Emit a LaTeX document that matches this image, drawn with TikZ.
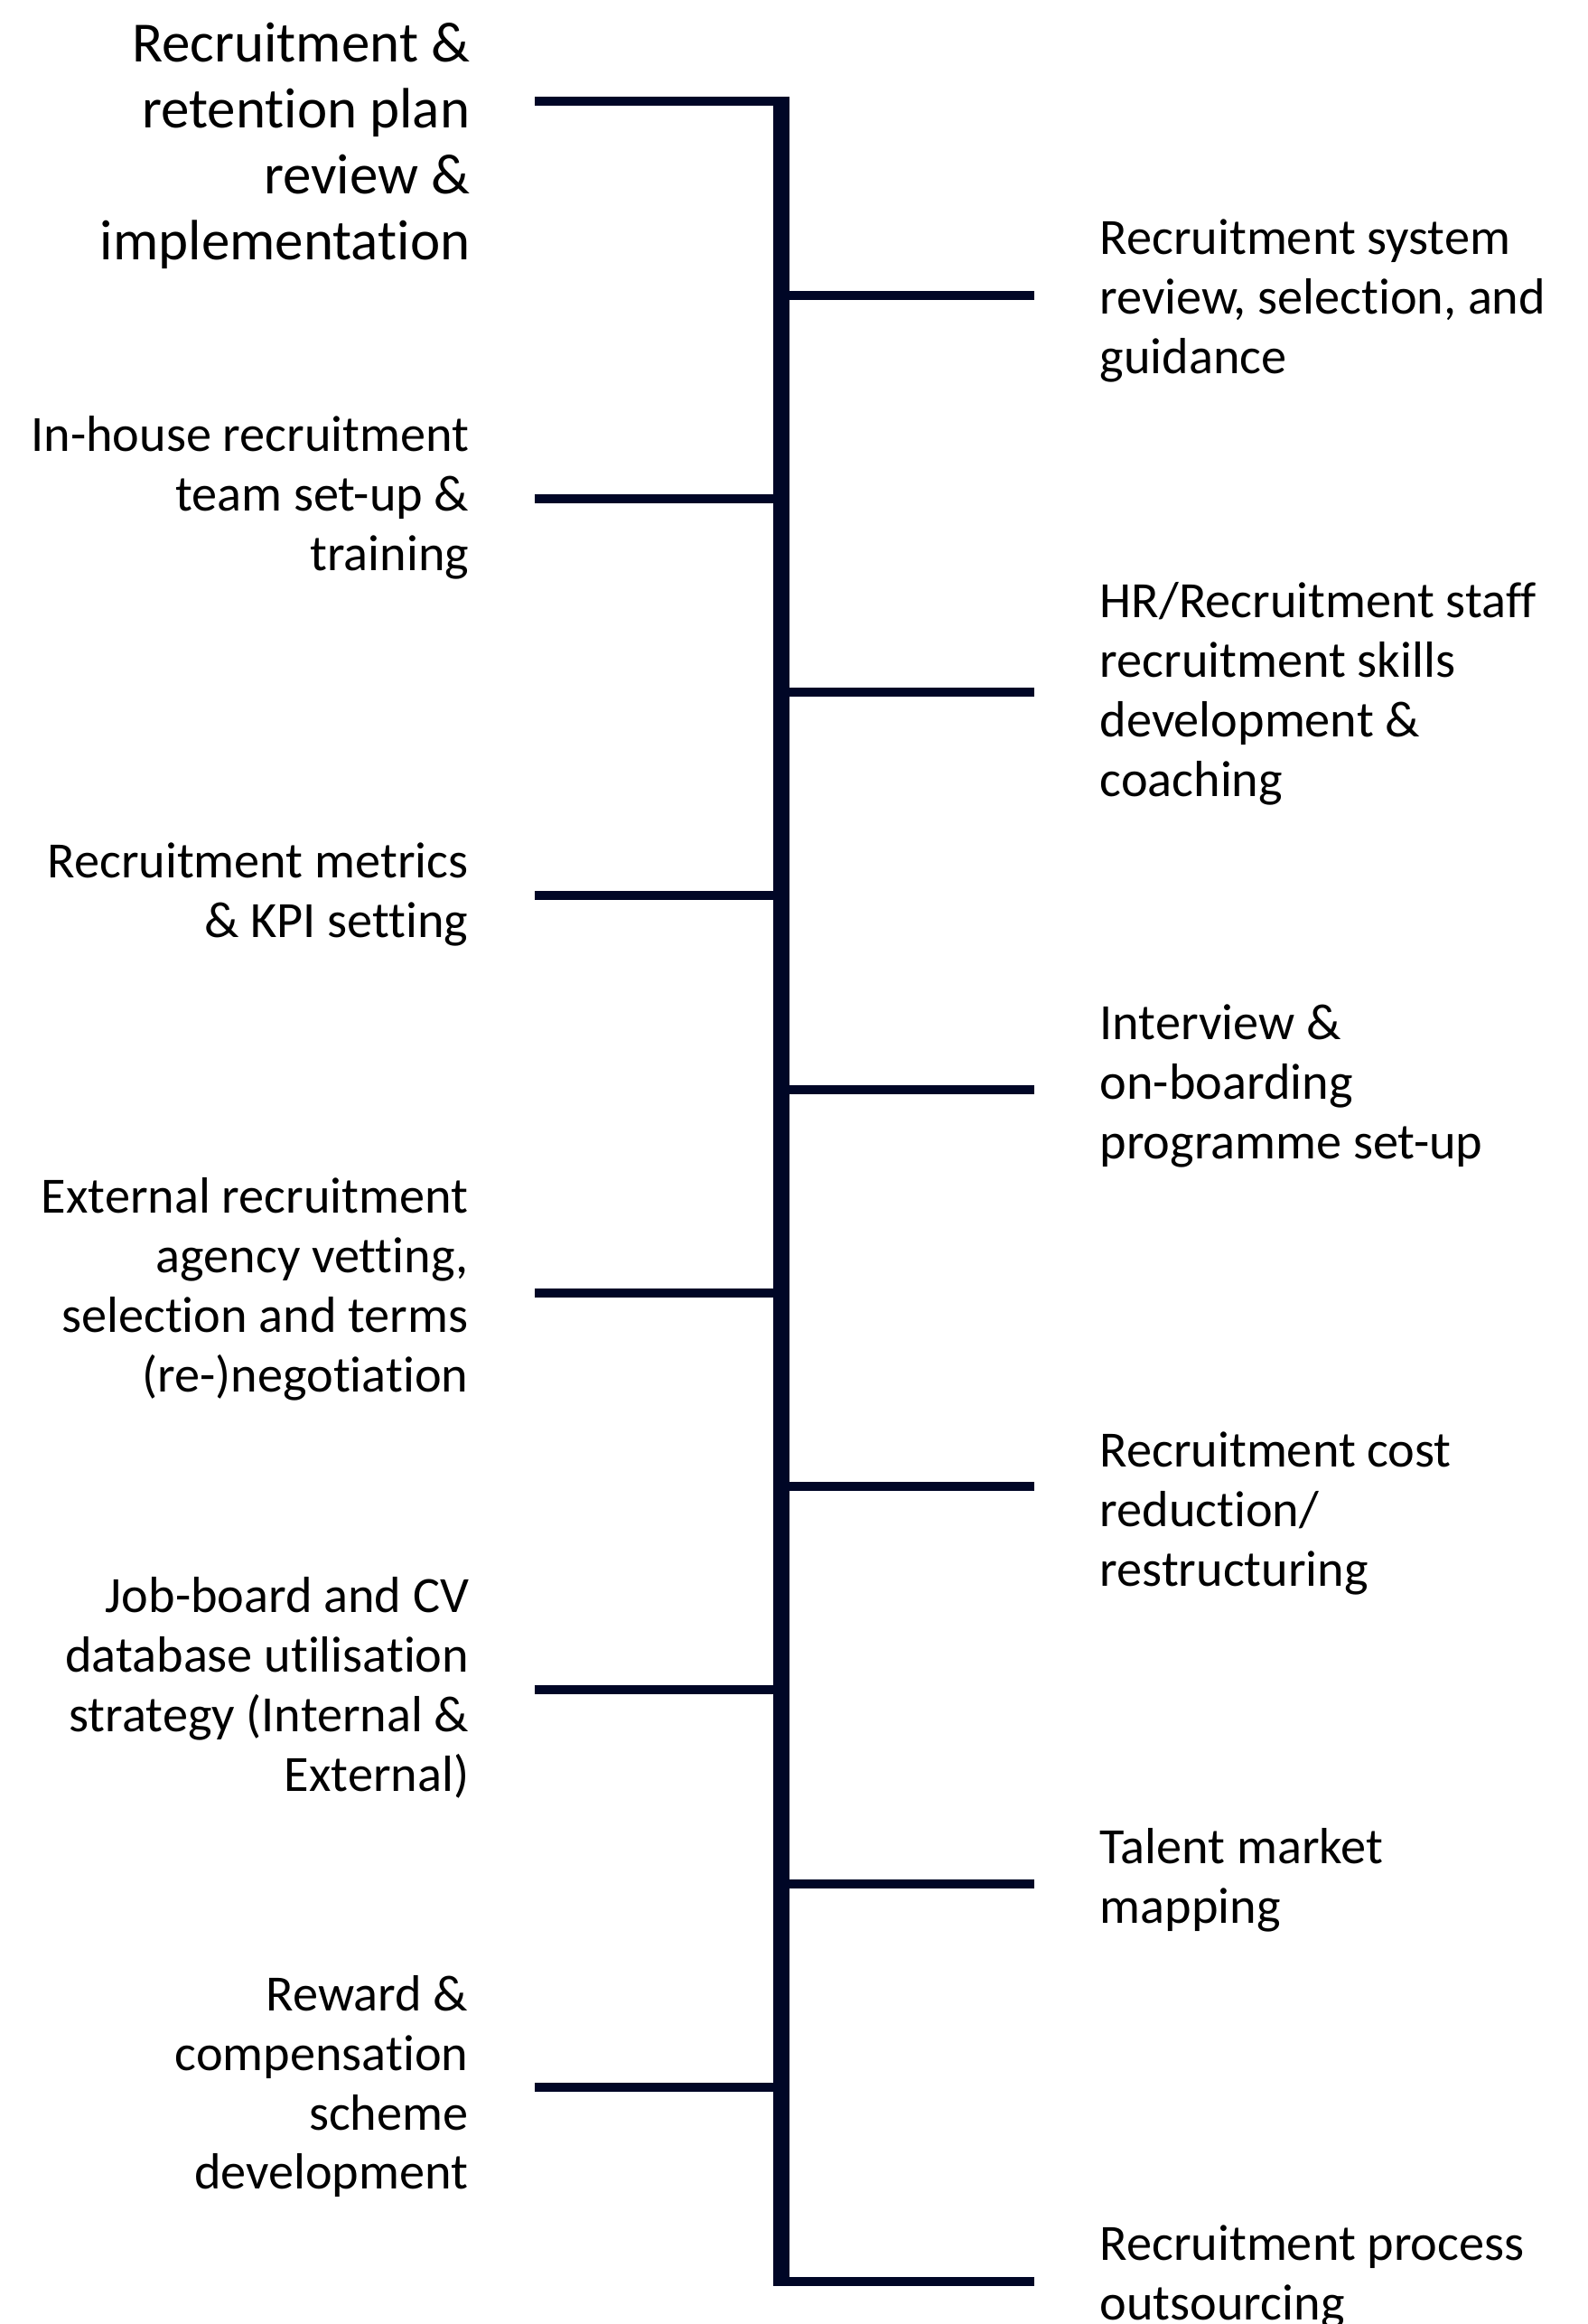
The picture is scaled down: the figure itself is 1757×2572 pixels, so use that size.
\documentclass[tikz,border=0pt]{standalone}
\usepackage{fontspec}
\setmainfont[Ligatures=NoCommon]{Carlito}
\definecolor{navy}{RGB}{0,6,38}
\tikzset{trunk/.style={navy, line width=0.18cm},
         branch/.style={navy, line width=0.1cm},
         every node/.style={inner sep=0pt, font=\fontsize{16pt}{18.76pt}\selectfont},
         lft/.style={anchor=east, align=right},
         rgt/.style={anchor=west, align=left}}

\begin{document}
\begin{tikzpicture}[x=0.01cm, y=-0.01cm]
   \useasboundingbox (0,0) rectangle (1757,2572);
   \begin{scope}
    \coordinate (top) at (865,107);
    \coordinate (bot) at (865,2530);
    \coordinate (a1) at (592, 112); \coordinate (b1) at (865, 112);
    \coordinate (a2) at (592, 552); \coordinate (b2) at (865, 552);
    \coordinate (a3) at (592, 991); \coordinate (b3) at (865, 991);
    \coordinate (a4) at (592,1431); \coordinate (b4) at (865,1431);
    \coordinate (a5) at (592,1870); \coordinate (b5) at (865,1870);
    \coordinate (a6) at (592,2310); \coordinate (b6) at (865,2310);
    \coordinate (c1) at (865, 327); \coordinate (d1) at (1145, 327);
    \coordinate (c2) at (865, 766); \coordinate (d2) at (1145, 766);
    \coordinate (c3) at (865,1206); \coordinate (d3) at (1145,1206);
    \coordinate (c4) at (865,1645); \coordinate (d4) at (1145,1645);
    \coordinate (c5) at (865,2085); \coordinate (d5) at (1145,2085);
    \coordinate (c6) at (865,2525); \coordinate (d6) at (1145,2525);
    \draw[trunk] (top) -- (bot);
    \draw[branch] (a1) -- (b1);
    \draw[branch] (a2) -- (b2);
    \draw[branch] (a3) -- (b3);
    \draw[branch] (a4) -- (b4);
    \draw[branch] (a5) -- (b5);
    \draw[branch] (a6) -- (b6);
    \draw[branch] (c1) -- (d1);
    \draw[branch] (c2) -- (d2);
    \draw[branch] (c3) -- (d3);
    \draw[branch] (c4) -- (d4);
    \draw[branch] (c5) -- (d5);
    \draw[branch] (c6) -- (d6);
   \end{scope}
   \node[lft, font=\fontsize{17.9pt}{20.75pt}\selectfont] (plan) at (521,161)
     {Recruitment \&\\retention plan\\review \&\\implementation};
   \node[lft] (inhouse) at (520,551) {In-house recruitment\\team set-up \&\\training};
   \node[lft] (metrics) at (519,990) {Recruitment metrics\\\& KPI setting};
   \node[lft] (agency) at (519,1427) {External recruitment\\agency vetting,\\selection and terms\\(re-)negotiation};
   \node[lft] (jobboard) at (520,1868) {Job-board and CV\\database utilisation\\strategy (Internal \&\\External)};
   \node[lft] (reward) at (519,2309) {Reward \&\\compensation\\scheme\\development};
   \node[rgt] (system) at (1217,333) {Recruitment system\\review, selection, and\\guidance};
   \node[rgt] (skills) at (1217,768) {HR/Recruitment staff\\recruitment skills\\development \&\\coaching};
   \node[rgt] (onboard) at (1217,1202) {Interview \&\\on-boarding\\programme set-up};
   \node[rgt] (cost) at (1217,1675) {Recruitment cost\\reduction/\\restructuring};
   \node[rgt] (mapping) at (1217,2081) {Talent market\\mapping};
   \node[rgt] (rpo) at (1217,2520) {Recruitment process\\outsourcing};
\end{tikzpicture}
\end{document}
